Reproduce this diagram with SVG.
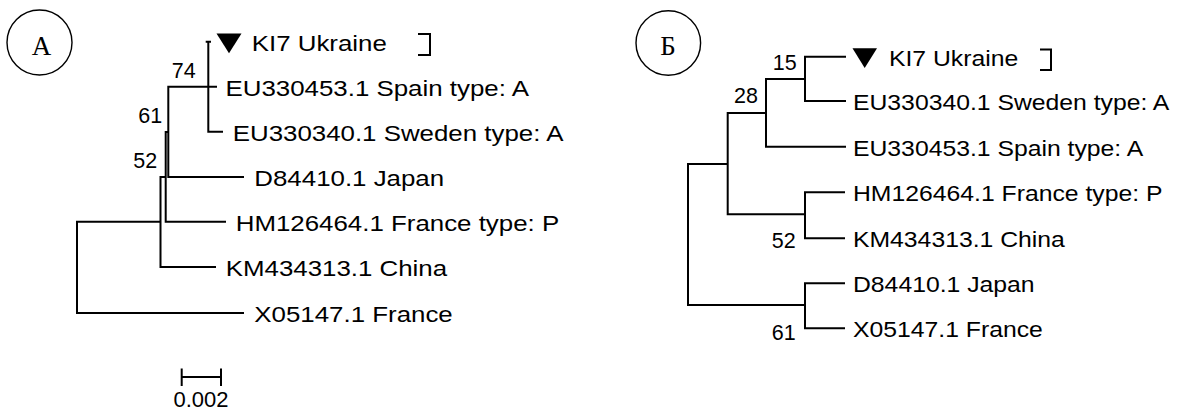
<svg xmlns="http://www.w3.org/2000/svg" width="1182" height="412" viewBox="0 0 1182 412">
<style>
.br{fill:none;stroke:#000;stroke-width:2;stroke-linecap:square}
.lbl{font-family:"Liberation Sans",Arial,sans-serif;font-size:22.5px;fill:#000}
.num{font-family:"Liberation Sans",Arial,sans-serif;font-size:21.5px;fill:#000}
.ser{font-family:"Liberation Serif","Times New Roman",serif;font-size:27px;fill:#000;text-anchor:middle}
.circ{fill:none;stroke:#000;stroke-width:1.4}
.tri{fill:#000}
</style>
<rect width="1182" height="412" fill="#fff"/>
<g id="panel-a-label">
<circle class="circ" cx="39.5" cy="42.5" r="32.5"/>
<text class="ser" x="41.5" y="55">А</text>
</g>
<g id="panel-b-label">
<circle class="circ" cx="668.3" cy="43" r="32.3"/>
<text class="ser" x="668" y="55">Б</text>
</g>
<g id="connectors-a">
<path class="br" d="M206.7,41.7 H210 M208.3,41.7 V131.7 M208.3,131.7 H222 M168.3,86.7 H216 M168.3,86.7 V177 M168.3,177 H243 M165.7,132 H168.3 M165.7,132 V221.7 M165.7,221.7 H225 M160.5,177 H165.7 M160.5,177 V267 M160.5,267 H215 M77,221.7 H160.5 M77,221.7 V313 M77,313 H243"/>
</g>
<g id="connectors-b">
<path class="br" d="M805,56.7 H845 M805,56.7 V101 M805,101 H845 M766,79 H805 M766,79 V146.7 M766,146.7 H845 M727.7,113 H766 M727.7,113 V214.3 M727.7,214.3 H805 M805,192.3 V238.3 M805,192.3 H844 M805,238.3 H844 M688,164 H727.7 M688,164 V305 M688,305 H805 M805,283.3 V328.3 M805,283.3 H844 M805,328.3 H844"/>
</g>
<g id="tree-a-nodes">
<g id="a-ki7"><polygon class="tri" points="216.5,33.5 241.5,33.5 229,53.3"/><text class="lbl" transform="translate(251.7,50.7) scale(1.15,1)">KI7 Ukraine</text><path class="br" d="M419,34 H430 V55 H419" stroke-linecap="butt"/></g>
<g id="a-spain"><text class="lbl" transform="translate(225.5,95.7) scale(1.15,1)">EU330453.1 Spain type: A</text></g>
<g id="a-sweden"><text class="lbl" transform="translate(232.7,140.7) scale(1.15,1)">EU330340.1 Sweden type: A</text></g>
<g id="a-japan"><text class="lbl" transform="translate(254.3,186) scale(1.15,1)">D84410.1 Japan</text></g>
<g id="a-francep"><text class="lbl" transform="translate(235.7,230.7) scale(1.15,1)">HM126464.1 France type: P</text></g>
<g id="a-china"><text class="lbl" transform="translate(225.7,276) scale(1.15,1)">KM434313.1 China</text></g>
<g id="a-france"><text class="lbl" transform="translate(254.3,322) scale(1.15,1)">X05147.1 France</text></g>
<g id="a-support"><text class="num" x="171.7" y="78.3">74</text><text class="num" x="138.3" y="123.3">61</text><text class="num" x="133.3" y="168.3">52</text></g>
<g id="a-scale"><path class="br" stroke-linecap="butt" d="M181.7,377 H221 M181.7,369.5 V385 M221,369.5 V385"/><text class="num" x="201" y="407" text-anchor="middle" style="font-size:22px">0.002</text></g>
</g>
<g id="tree-b-nodes">
<g id="b-ki7"><polygon class="tri" points="852.5,48.2 877,48.2 864.7,68"/><text class="lbl" transform="translate(889,66) scale(1.1,1)">KI7 Ukraine</text><path class="br" d="M1041,49.5 H1051 V70 H1041" stroke-linecap="butt"/></g>
<g id="b-sweden"><text class="lbl" transform="translate(853,110) scale(1.1,1)">EU330340.1 Sweden type: A</text></g>
<g id="b-spain"><text class="lbl" transform="translate(853,155.7) scale(1.1,1)">EU330453.1 Spain type: A</text></g>
<g id="b-francep"><text class="lbl" transform="translate(853,201.3) scale(1.1,1)">HM126464.1 France type: P</text></g>
<g id="b-china"><text class="lbl" transform="translate(853,247.3) scale(1.1,1)">KM434313.1 China</text></g>
<g id="b-japan"><text class="lbl" transform="translate(853,292.3) scale(1.1,1)">D84410.1 Japan</text></g>
<g id="b-france"><text class="lbl" transform="translate(853,337.3) scale(1.1,1)">X05147.1 France</text></g>
<g id="b-support"><text class="num" x="772.7" y="70">15</text><text class="num" x="734" y="103">28</text><text class="num" x="771.7" y="248">52</text><text class="num" x="771.7" y="340">61</text></g>
</g>
</svg>
